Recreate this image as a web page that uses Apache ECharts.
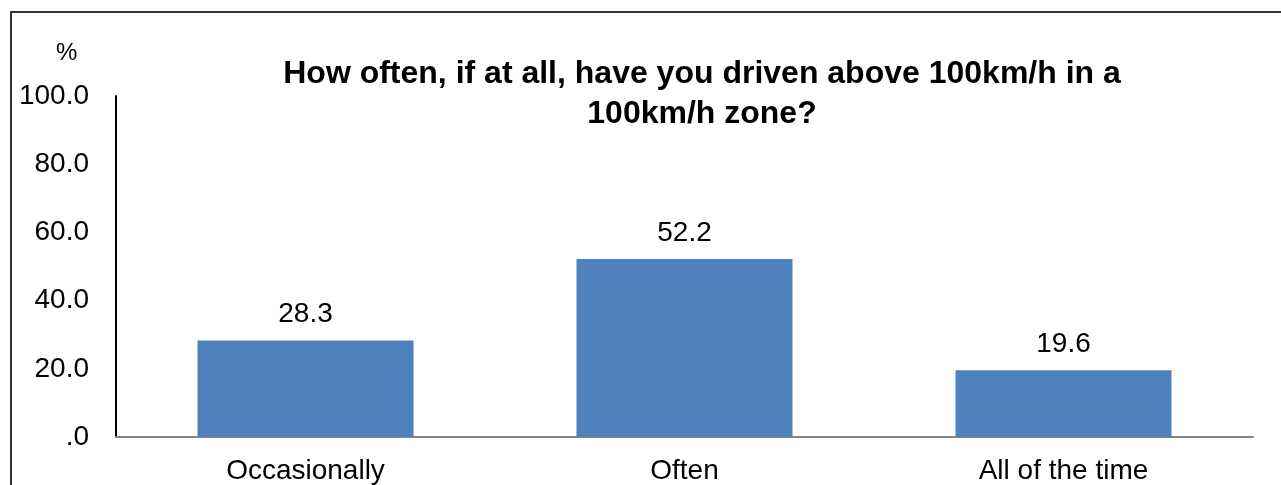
<!DOCTYPE html>
<html>
<head>
<meta charset="utf-8">
<script src="https://cdn.jsdelivr.net/npm/echarts@6/dist/echarts.min.js"></script>
<style>
html,body{margin:0;padding:0;background:#fff;}
#chart{width:1281px;height:485px;}
</style>
</head>
<body>
<div id="chart"></div>
<script>
const categories = ["Occasionally", "Often", "All of the time"];
const values = [28.3, 52.2, 19.6];
const yTicks = [0, 20, 40, 60, 80, 100];
const titleText = "How often, if at all, have you driven above 100km/h in a\n100km/h zone?";
const unitText = "%";

const FONT = '"Liberation Sans", Arial, sans-serif';
const chart = echarts.init(document.getElementById('chart'), null, {renderer: 'canvas'});
chart.setOption({
  animation: false,
  backgroundColor: '#ffffff',
  title: {
    text: unitText,
    left: 56,
    top: 41,
    padding: 0,
    textStyle: {fontFamily: FONT, fontSize: 24, fontWeight: 'normal', color: '#000'}
  },
  graphic: [
    {
      type: 'rect',
      silent: true,
      z: -1,
      shape: {x: 11, y: 12, width: 1400, height: 600},
      style: {fill: null, stroke: '#333', lineWidth: 2}
    },
    {
      type: 'text',
      silent: true,
      x: 702,
      y: 54,
      style: {
        text: titleText,
        align: 'center',
        verticalAlign: 'top',
        fontFamily: FONT,
        fontSize: 32,
        fontWeight: 'bold',
        lineHeight: 40,
        fill: '#000'
      }
    }
  ],
  grid: {left: 116, right: 28, top: 96, bottom: 47, containLabel: false},
  xAxis: {
    type: 'category',
    data: categories,
    axisLine: {show: true, lineStyle: {color: '#868686', width: 2}},
    axisTick: {show: false},
    axisLabel: {fontFamily: FONT, fontSize: 28, color: '#000', margin: 20},
    splitLine: {show: false}
  },
  yAxis: {
    type: 'value',
    min: yTicks[0],
    max: yTicks[yTicks.length - 1],
    interval: yTicks[1] - yTicks[0],
    axisLine: {show: true, lineStyle: {color: '#000', width: 2}},
    axisTick: {show: false},
    splitLine: {show: false},
    axisLabel: {
      fontFamily: FONT, fontSize: 28, color: '#000', margin: 27,
      formatter: v => v === 0 ? '.0' : v.toFixed(1)
    }
  },
  series: [{
    type: 'bar',
    data: values,
    barCategoryGap: '43%',
    itemStyle: {color: '#4F81BD'},
    label: {
      show: true,
      position: 'top',
      distance: 12,
      fontFamily: FONT,
      fontSize: 28,
      color: '#000',
      formatter: p => p.value.toFixed(1)
    }
  }]
});
</script>
</body>
</html>
